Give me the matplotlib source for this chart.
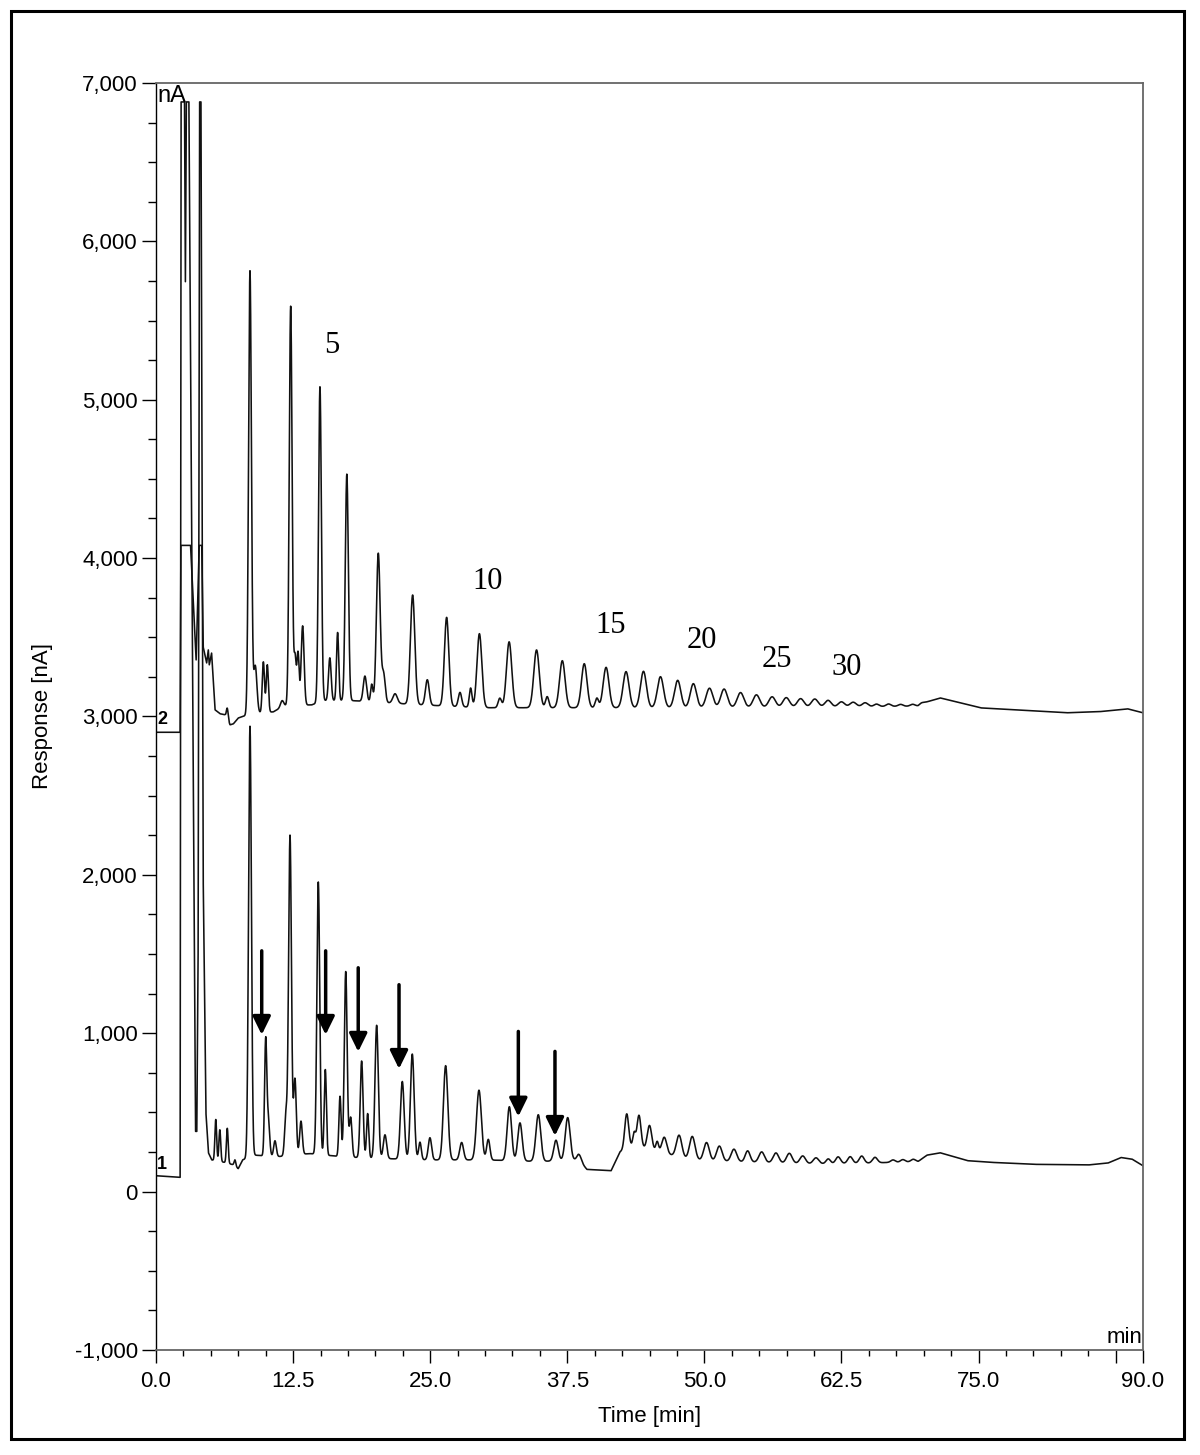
import numpy as np
import matplotlib
matplotlib.use("Agg")
import matplotlib.pyplot as plt
from matplotlib.patches import Rectangle
from matplotlib.ticker import MultipleLocator

plt.rcParams['font.family'] = ['Liberation Sans', 'DejaVu Sans']

# time axis (min)
t = np.linspace(0, 90, 9001)

# trace 1 (lower) - baseline / solvent front points
base1_t = [0, 2.15, 2.2, 2.28, 2.6, 2.68, 2.76, 3.0, 3.6, 3.72, 3.84, 3.97, 4.1, 4.3, 4.55, 4.78, 5.08,
           6.2, 7.0, 7.5, 7.9, 9.0, 11.0, 14.0, 17.0, 20.0, 25.0, 30.0, 35.0, 38.5, 39.3, 41.5, 42.3,
           43.5, 45.5, 48.0, 50.0, 55.0, 60.0, 65.0, 69.5, 70.3, 71.5, 72.5, 74.0, 76.0, 80.0, 85.0,
           86.8, 88.0, 89.0, 90.0]
base1_v = [100, 90, 90, 6880, 6880, 5745, 6880, 6880, 380, 380, 1500, 6880, 6880, 2000, 500, 245, 200,
           185, 170, 145, 200, 230, 220, 240, 220, 210, 200, 200, 190, 200, 140, 132, 250,
           290, 260, 210, 195, 185, 175, 180, 190, 230, 245, 225, 195, 185, 172, 168,
           180, 215, 205, 163]

# trace 1 peaks: retention time, height above baseline, width (sigma)
pk1_t = [5.45, 5.82, 6.5, 7.2, 8.57, 10.0, 10.24, 10.85, 11.85, 12.22, 12.67, 13.22, 14.8, 15.44,
         16.78, 17.3, 17.75, 18.75, 19.3, 20.12, 20.88, 22.46, 23.37, 24.07, 24.98, 26.41, 27.87,
         29.45, 30.3, 32.22, 33.19, 34.86, 36.47, 37.54, 38.6, 42.92, 43.6, 44.04, 45.0, 45.7,
         46.35, 47.7, 48.9, 50.2, 51.37, 52.7, 53.95, 55.23, 56.53, 57.75, 58.97, 60.18, 61.3,
         62.2, 63.3, 64.35, 65.56, 67.2, 68.1, 69.05]
pk1_h = [260, 200, 220, 40, 2720, 720, 230, 100, 260, 2020, 480, 210, 1720, 540,
         380, 1170, 250, 610, 280, 840, 150, 490, 665, 110, 140, 595, 110,
         440, 130, 340, 240, 295, 130, 270, 40, 220, 80, 200, 150, 60,
         100, 140, 145, 115, 95, 78, 70, 66, 62, 62, 48, 38, 30,
         42, 42, 45, 35, 15, 15, 15]
pk1_w = [0.08, 0.08, 0.08, 0.08, 0.13, 0.1, 0.12, 0.12, 0.12, 0.13, 0.12, 0.12, 0.13, 0.1,
         0.1, 0.13, 0.12, 0.13, 0.1, 0.15, 0.15, 0.17, 0.17, 0.12, 0.15, 0.2, 0.17,
         0.22, 0.15, 0.2, 0.2, 0.22, 0.2, 0.22, 0.2, 0.18, 0.12, 0.18, 0.2, 0.12,
         0.22, 0.25, 0.25, 0.25, 0.25, 0.25, 0.22, 0.25, 0.25, 0.25, 0.25, 0.25, 0.2,
         0.22, 0.22, 0.22, 0.22, 0.2, 0.2, 0.2]

# trace 2 (upper)
base2_t = [0, 2.2, 2.26, 3.15, 3.45, 3.66, 3.8, 3.93, 4.17, 4.3, 4.62, 4.77, 4.86, 5.07, 5.38, 5.84,
           6.3, 6.75, 7.05, 7.5, 8.1, 9.0, 10.7, 11.5, 12.0, 14.2, 15.3, 17.84, 21.18, 22.55,
           26.05, 30.0, 40.0, 50.0, 60.0, 69.5, 70.2, 71.5, 72.5, 75.2, 80.0, 83.0, 86.0, 88.6, 90.0]
base2_v = [2900, 2900, 4080, 4080, 3650, 3357, 3700, 4080, 4080, 3440, 3338, 3420, 3326, 3400, 3042, 3017,
           3010, 2947, 2953, 2990, 3004, 3020, 3029, 3060, 3070, 3073, 3100, 3100, 3086, 3080,
           3067, 3055, 3055, 3055, 3060, 3065, 3090, 3117, 3100, 3054, 3035, 3023, 3030, 3048, 3023]

pk2_t = [6.5, 8.57, 9.05, 9.79, 10.15, 11.5, 12.28, 12.68, 12.95, 13.37, 14.95, 15.85, 16.56,
         17.4, 19.05, 19.67, 20.27, 20.75, 21.8, 23.4, 24.74, 26.5, 27.72, 28.69, 29.49, 31.35,
         32.2, 34.7, 35.67, 37.05, 39.05, 40.2, 41.04, 42.86, 44.45, 46.0, 47.57, 49.0, 50.47,
         51.8, 53.3, 54.75, 56.18, 57.47, 58.78, 60.07, 61.28, 62.5, 63.57, 64.66, 65.7, 66.8,
         67.9, 69.0, 69.8]
pk2_h = [70, 2800, 300, 320, 300, 40, 2520, 300, 330, 500, 1990, 270, 430,
         1430, 160, 110, 940, 180, 60, 690, 160, 560, 90, 120, 466, 60,
         416, 365, 70, 297, 278, 60, 255, 228, 230, 196, 173, 152, 123,
         117, 94, 79, 66, 60, 53, 50, 41, 31, 28, 24, 15, 15,
         12, 12, 10]
pk2_w = [0.08, 0.13, 0.15, 0.1, 0.1, 0.15, 0.13, 0.1, 0.1, 0.13, 0.13, 0.12, 0.1,
         0.14, 0.15, 0.1, 0.17, 0.15, 0.2, 0.2, 0.17, 0.2, 0.15, 0.12, 0.22, 0.15,
         0.24, 0.25, 0.15, 0.25, 0.25, 0.15, 0.26, 0.27, 0.27, 0.28, 0.28, 0.28, 0.3,
         0.3, 0.3, 0.3, 0.3, 0.3, 0.3, 0.3, 0.28, 0.28, 0.28, 0.26, 0.22, 0.22,
         0.22, 0.22, 0.2]

# arrows on trace 1: time, tail, tip
arrow_t = [9.64, 15.47, 18.44, 22.16, 33.04, 36.38]
arrow_top = [1520, 1520, 1413, 1306, 1011, 885]
arrow_tip = [990, 990, 883, 775, 474, 352]

# peak number labels
num_text = ["5", "10", "15", "20", "25", "30"]
num_t = [16.05, 30.2, 41.5, 49.8, 56.6, 63.0]
num_v = [5343, 3850, 3572, 3477, 3357, 3307]

xtick_pos = [0, 12.5, 25, 37.5, 50, 62.5, 75, 87.5, 90]
xtick_lab = ["0.0", "12.5", "25.0", "37.5", "50.0", "62.5", "75.0", "", "90.0"]
ytick_pos = list(range(-1000, 7001, 1000))


def trace(bt, bv, pt, ph, pw):
    y = np.interp(t, bt, bv)
    for c, h, w in zip(pt, ph, pw):
        y = y + h * np.exp(-0.5 * ((t - c) / w) ** 2)
    return y


y1 = trace(base1_t, base1_v, pk1_t, pk1_h, pk1_w)
y2 = trace(base2_t, base2_v, pk2_t, pk2_h, pk2_w)
y1 = np.minimum(y1, 6880)

fig = plt.figure(figsize=(12, 14.55), dpi=100)
ax = fig.add_axes([0.13, 0.0722, 0.8225, 0.8708])

ax.plot(t, y2, color="#111111", lw=1.15)
ax.plot(t, y1, color="#111111", lw=1.15)

ax.set_xlim(0, 90)
ax.set_ylim(-1000, 7000)

ax.set_xticks(xtick_pos)
ax.set_xticklabels(xtick_lab)
ax.xaxis.set_minor_locator(MultipleLocator(2.5))
ax.set_yticks(ytick_pos)
ax.set_yticklabels(["{:,}".format(v) for v in ytick_pos])
ax.yaxis.set_minor_locator(MultipleLocator(250))
ax.tick_params(axis="both", which="major", labelsize=16, direction="out")
ax.tick_params(axis="x", which="major", length=9.5, width=1.0, pad=6)
ax.tick_params(axis="x", which="minor", length=4, width=1.0)
ax.tick_params(axis="y", which="major", length=10, width=1.0, pad=3)
ax.tick_params(axis="y", which="minor", length=5.5, width=1.0)

for s in ["top", "right", "bottom"]:
    ax.spines[s].set_color("#666666")
    ax.spines[s].set_linewidth(1.3)
ax.spines["left"].set_color("black")
ax.spines["left"].set_linewidth(1.0)

ax.set_xlabel("Time [min]", fontsize=16)
ax.xaxis.set_label_coords(0.5, -0.044)
ax.set_ylabel("Response [nA]", fontsize=16)
ax.yaxis.set_label_coords(-0.104, 0.5)

ax.text(0.1, 6985, "nA", fontsize=17, ha="left", va="top")
ax.text(89.95, -990, "min", fontsize=16, ha="right", va="bottom")
ax.text(0.1, 2930, "2", fontsize=13, fontweight="bold", ha="left", va="bottom")
ax.text(0.1, 120, "1", fontsize=13, fontweight="bold", ha="left", va="bottom")

for s, x, y in zip(num_text, num_t, num_v):
    ax.text(x, y, s, fontsize=22, family="Liberation Serif", ha="center", va="center")

for x, a, b in zip(arrow_t, arrow_top, arrow_tip):
    ax.annotate("", xy=(x, b), xytext=(x, a),
                arrowprops=dict(arrowstyle="-|>,head_length=0.55,head_width=0.27",
                                lw=2.5, color="black", mutation_scale=20,
                                shrinkA=0, shrinkB=0))

fig.patches.append(Rectangle((11 / 1200, 1 - 1438.5 / 1455), 1172.5 / 1200, 1427.5 / 1455,
                             transform=fig.transFigure, fill=False, lw=2.2,
                             edgecolor="black"))

plt.savefig("out.png", dpi=100)
